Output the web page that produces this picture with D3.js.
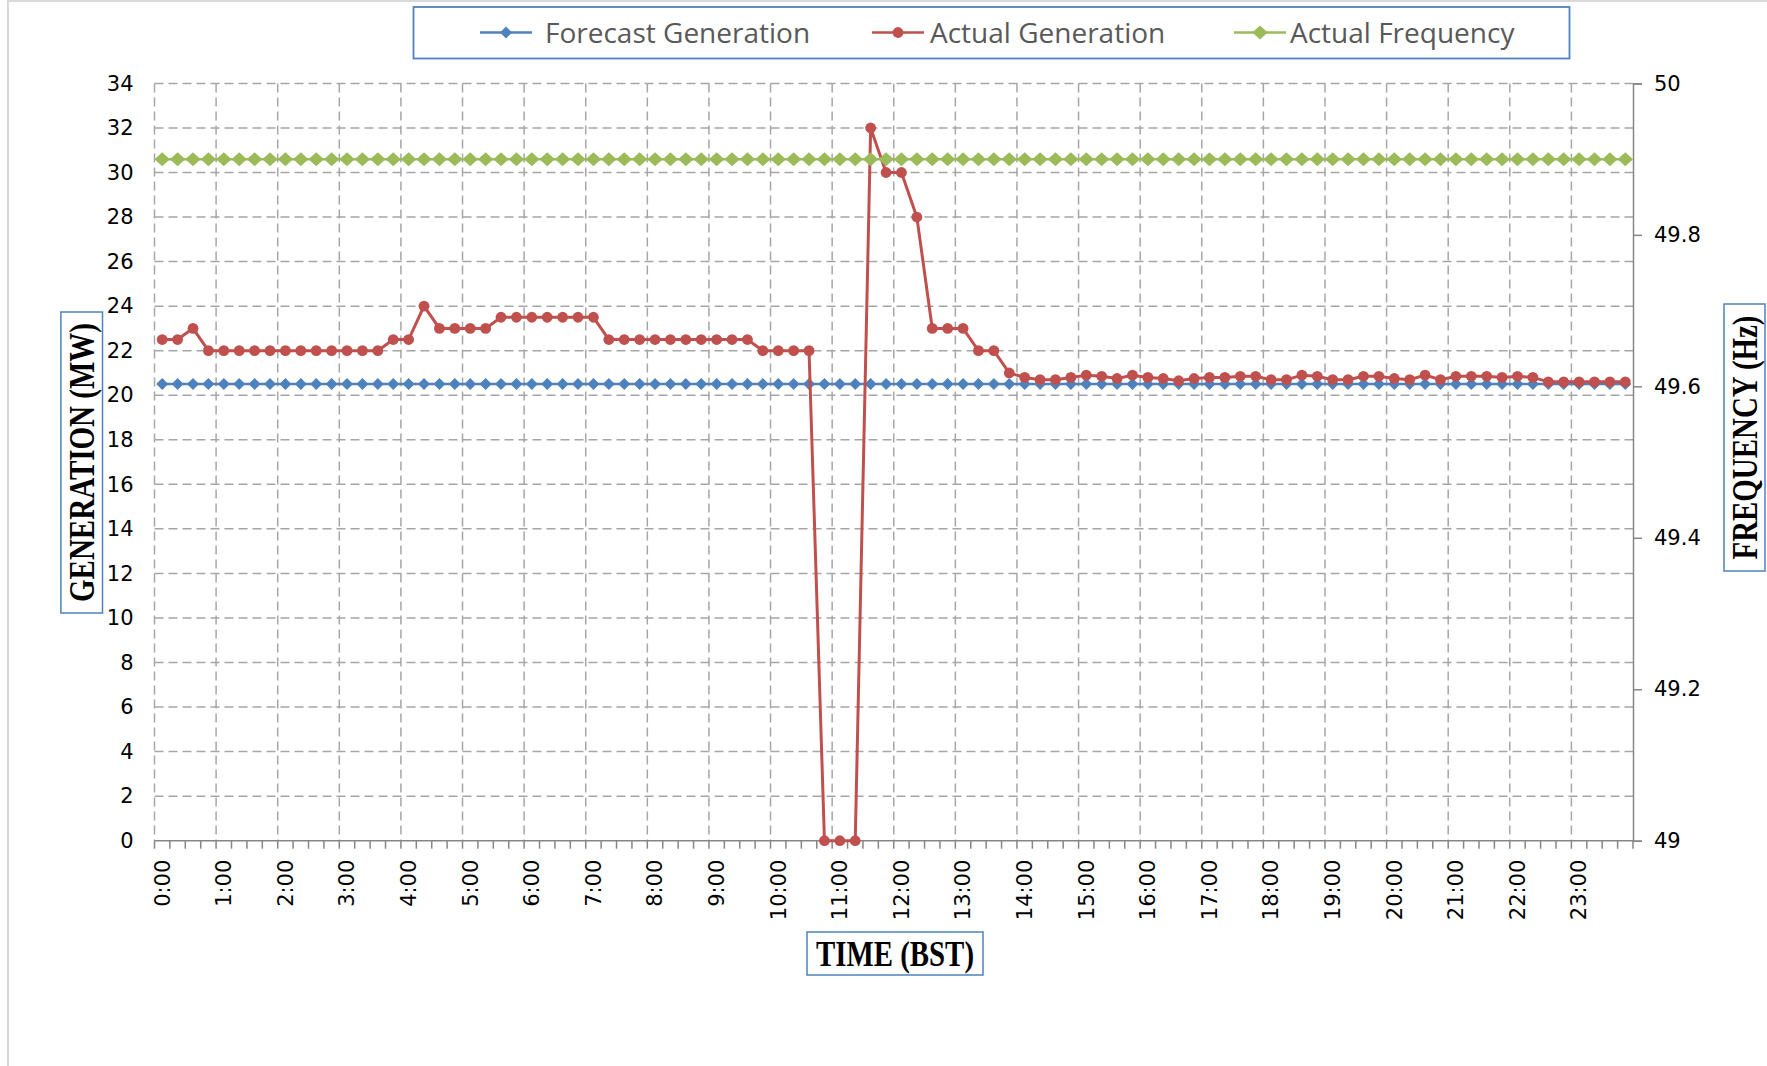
<!DOCTYPE html>
<html>
<head>
<meta charset="utf-8">
<script src="https://cdn.jsdelivr.net/npm/d3@7/dist/d3.min.js"></script>
<style>
  body { margin: 0; background: #fff; }
  svg { display: block; }
</style>
</head>
<body>
<svg id="chart" width="1767" height="1066"></svg>
<script>
// categories: every 15 minutes over the day
const times = [
  "0:00","0:15","0:30","0:45","1:00","1:15","1:30","1:45","2:00","2:15","2:30","2:45",
  "3:00","3:15","3:30","3:45","4:00","4:15","4:30","4:45","5:00","5:15","5:30","5:45",
  "6:00","6:15","6:30","6:45","7:00","7:15","7:30","7:45","8:00","8:15","8:30","8:45",
  "9:00","9:15","9:30","9:45","10:00","10:15","10:30","10:45","11:00","11:15","11:30","11:45",
  "12:00","12:15","12:30","12:45","13:00","13:15","13:30","13:45","14:00","14:15","14:30","14:45",
  "15:00","15:15","15:30","15:45","16:00","16:15","16:30","16:45","17:00","17:15","17:30","17:45",
  "18:00","18:15","18:30","18:45","19:00","19:15","19:30","19:45","20:00","20:15","20:30","20:45",
  "21:00","21:15","21:30","21:45","22:00","22:15","22:30","22:45","23:00","23:15","23:30","23:45"
];

// tick labels shown on the time axis
const hourLabels = [
  "0:00","1:00","2:00","3:00","4:00","5:00","6:00","7:00","8:00","9:00","10:00","11:00",
  "12:00","13:00","14:00","15:00","16:00","17:00","18:00","19:00","20:00","21:00","22:00","23:00"
];

const genTicks = [0, 2, 4, 6, 8, 10, 12, 14, 16, 18, 20, 22, 24, 26, 28, 30, 32, 34];
const freqTicks = [49, 49.2, 49.4, 49.6, 49.8, 50];

// MW
const forecastGen = [
  20.5,20.5,20.5,20.5,20.5,20.5,20.5,20.5,20.5,20.5,20.5,20.5,
  20.5,20.5,20.5,20.5,20.5,20.5,20.5,20.5,20.5,20.5,20.5,20.5,
  20.5,20.5,20.5,20.5,20.5,20.5,20.5,20.5,20.5,20.5,20.5,20.5,
  20.5,20.5,20.5,20.5,20.5,20.5,20.5,20.5,20.5,20.5,20.5,20.5,
  20.5,20.5,20.5,20.5,20.5,20.5,20.5,20.5,20.5,20.5,20.5,20.5,
  20.5,20.5,20.5,20.5,20.5,20.5,20.5,20.5,20.5,20.5,20.5,20.5,
  20.5,20.5,20.5,20.5,20.5,20.5,20.5,20.5,20.5,20.5,20.5,20.5,
  20.5,20.5,20.5,20.5,20.5,20.5,20.5,20.5,20.5,20.5,20.5,20.5
];

// MW
const actualGen = [
  22.5,22.5,23,22,22,22,22,22,22,22,22,22,
  22,22,22,22.5,22.5,24,23,23,23,23,23.5,23.5,
  23.5,23.5,23.5,23.5,23.5,22.5,22.5,22.5,22.5,22.5,22.5,22.5,
  22.5,22.5,22.5,22,22,22,22,0,0,0,32,30,
  30,28,23,23,23,22,22,21,20.8,20.7,20.7,20.8,
  20.9,20.85,20.75,20.9,20.8,20.75,20.65,20.75,20.8,20.8,20.85,20.85,
  20.7,20.7,20.9,20.85,20.7,20.7,20.85,20.85,20.75,20.7,20.9,20.7,
  20.85,20.85,20.85,20.8,20.85,20.8,20.6,20.6,20.6,20.6,20.6,20.6
];

// Hz
const actualFreq = [
  49.9,49.9,49.9,49.9,49.9,49.9,49.9,49.9,49.9,49.9,49.9,49.9,
  49.9,49.9,49.9,49.9,49.9,49.9,49.9,49.9,49.9,49.9,49.9,49.9,
  49.9,49.9,49.9,49.9,49.9,49.9,49.9,49.9,49.9,49.9,49.9,49.9,
  49.9,49.9,49.9,49.9,49.9,49.9,49.9,49.9,49.9,49.9,49.9,49.9,
  49.9,49.9,49.9,49.9,49.9,49.9,49.9,49.9,49.9,49.9,49.9,49.9,
  49.9,49.9,49.9,49.9,49.9,49.9,49.9,49.9,49.9,49.9,49.9,49.9,
  49.9,49.9,49.9,49.9,49.9,49.9,49.9,49.9,49.9,49.9,49.9,49.9,
  49.9,49.9,49.9,49.9,49.9,49.9,49.9,49.9,49.9,49.9,49.9,49.9
];

const blue = "#4f81bd", red = "#c0504d", green = "#9bbb59";
const gridColor = "#a6a6a6", axisColor = "#868686";
const tickFont = "'DejaVu Sans', Verdana, sans-serif";

const plot = { left: 154.5, right: 1633, top: 83.4, bottom: 840.7 };

const svg = d3.select("#chart");

// outer chart border
svg.append("rect")
  .attr("x", 8).attr("y", 1)
  .attr("width", 1800).attr("height", 1100)
  .attr("fill", "#fff").attr("stroke", "#d9d9d9").attr("stroke-width", 2);

const x = d3.scaleBand()
  .domain(times)
  .range([plot.left, plot.right]);
const bw = x.bandwidth();
const cx = d => x(d) + bw / 2;

const yGen = d3.scaleLinear().domain([0, 34]).range([plot.bottom, plot.top]);
const yFreq = d3.scaleLinear().domain([49, 50]).range([plot.bottom, plot.top]);

// horizontal gridlines
svg.append("g").selectAll("line")
  .data(genTicks.filter(d => d > 0))
  .join("line")
  .attr("x1", plot.left).attr("x2", plot.right)
  .attr("y1", d => yGen(d)).attr("y2", d => yGen(d))
  .attr("stroke", gridColor).attr("stroke-width", 1.5)
  .attr("stroke-dasharray", "9,5");

// vertical gridlines, one per hour at band edges
svg.append("g").selectAll("line")
  .data(hourLabels)
  .join("line")
  .attr("x1", d => x(d)).attr("x2", d => x(d))
  .attr("y1", plot.top).attr("y2", plot.bottom)
  .attr("stroke", gridColor).attr("stroke-width", 1.5)
  .attr("stroke-dasharray", "9,5");

// left axis (labels only)
const leftAxis = svg.append("g")
  .attr("transform", `translate(${plot.left},0)`)
  .call(d3.axisLeft(yGen).tickValues(genTicks).tickSize(0).tickPadding(21));
leftAxis.select(".domain").remove();
leftAxis.selectAll("text")
  .attr("font-family", tickFont).attr("font-size", 21).attr("fill", "#000");

// right axis
const rightAxis = svg.append("g")
  .attr("transform", `translate(${plot.right},0)`)
  .call(d3.axisRight(yFreq).tickValues(freqTicks).tickSize(9).tickPadding(12)
    .tickFormat(d3.format("~g")));
rightAxis.select(".domain").attr("stroke", axisColor).attr("stroke-width", 1.5);
rightAxis.selectAll(".tick line").attr("stroke", axisColor).attr("stroke-width", 1.5);
rightAxis.selectAll("text")
  .attr("font-family", tickFont).attr("font-size", 21).attr("fill", "#000");

// bottom axis: line + a tick at every band edge
svg.append("line")
  .attr("x1", plot.left).attr("x2", plot.right)
  .attr("y1", plot.bottom).attr("y2", plot.bottom)
  .attr("stroke", axisColor).attr("stroke-width", 1.5);
svg.append("g").selectAll("line")
  .data(times.map(d => x(d)).concat([plot.right]))
  .join("line")
  .attr("x1", d => d).attr("x2", d => d)
  .attr("y1", plot.bottom).attr("y2", plot.bottom + 8)
  .attr("stroke", axisColor).attr("stroke-width", 1.5);

const bottomAxis = svg.append("g")
  .attr("transform", `translate(0,${plot.bottom})`)
  .call(d3.axisBottom(x).tickValues(hourLabels).tickSize(0).tickPadding(0));
bottomAxis.select(".domain").remove();
bottomAxis.selectAll("text")
  .attr("font-family", tickFont).attr("font-size", 21).attr("fill", "#000")
  .attr("text-anchor", "end")
  .attr("transform", "rotate(-90)")
  .attr("x", -19).attr("y", 0).attr("dy", "0.35em");

// series
const diamond = (w, h) => `M0,${-h}L${w},0L0,${h}L${-w},0Z`;

const genLine = d3.line().x((d, i) => cx(times[i])).y(d => yGen(d));
const freqLine = d3.line().x((d, i) => cx(times[i])).y(d => yFreq(d));

// forecast generation
svg.append("path").datum(forecastGen)
  .attr("d", genLine).attr("fill", "none")
  .attr("stroke", blue).attr("stroke-width", 2.5);
svg.append("g").selectAll("path")
  .data(forecastGen)
  .join("path")
  .attr("transform", (d, i) => `translate(${cx(times[i])},${yGen(d)})`)
  .attr("d", diamond(6, 6)).attr("fill", blue);

// actual generation
svg.append("path").datum(actualGen)
  .attr("d", genLine).attr("fill", "none")
  .attr("stroke", red).attr("stroke-width", 3);
svg.append("g").selectAll("circle")
  .data(actualGen)
  .join("circle")
  .attr("cx", (d, i) => cx(times[i])).attr("cy", d => yGen(d))
  .attr("r", 5.4).attr("fill", red);

// actual frequency (secondary axis)
svg.append("path").datum(actualFreq)
  .attr("d", freqLine).attr("fill", "none")
  .attr("stroke", green).attr("stroke-width", 2.5);
svg.append("g").selectAll("path")
  .data(actualFreq)
  .join("path")
  .attr("transform", (d, i) => `translate(${cx(times[i])},${yFreq(d)})`)
  .attr("d", diamond(7.7, 7)).attr("fill", green);

// legend
svg.append("rect")
  .attr("x", 413.5).attr("y", 7).attr("width", 1156).attr("height", 51.5)
  .attr("fill", "#fff").attr("stroke", blue).attr("stroke-width", 1.8);

const legendItems = [
  { name: "Forecast Generation", color: blue, shape: "diamond", x0: 480, tx: 545 },
  { name: "Actual Generation", color: red, shape: "circle", x0: 872, tx: 930 },
  { name: "Actual Frequency", color: green, shape: "diamond", x0: 1234, tx: 1290 }
];
const ly = 32.5;
legendItems.forEach(it => {
  const g = svg.append("g");
  g.append("line")
    .attr("x1", it.x0).attr("x2", it.x0 + 52)
    .attr("y1", ly).attr("y2", ly)
    .attr("stroke", it.color).attr("stroke-width", 2.5);
  if (it.shape === "circle") {
    g.append("circle").attr("cx", it.x0 + 26).attr("cy", ly).attr("r", 5.4).attr("fill", it.color);
  } else {
    g.append("path").attr("transform", `translate(${it.x0 + 26},${ly})`)
      .attr("d", it.color === green ? diamond(7.7, 7) : diamond(6, 6)).attr("fill", it.color);
  }
  g.append("text")
    .attr("x", it.tx).attr("y", ly + 10.5)
    .attr("font-family", "'Open Sans', sans-serif").attr("font-size", 28)
    .attr("fill", "#595959")
    .text(it.name);
});

// axis titles in boxes
function titleBox(cxp, cyp, w, h, rot, label, len) {
  const g = svg.append("g").attr("transform", `translate(${cxp},${cyp}) rotate(${rot})`);
  const bwid = rot ? h : w, bh = rot ? w : h;
  g.append("rect")
    .attr("x", -bwid / 2).attr("y", -bh / 2).attr("width", bwid).attr("height", bh)
    .attr("fill", "#fff").attr("stroke", blue).attr("stroke-width", 1.5);
  g.append("text")
    .attr("x", 0).attr("y", 12)
    .attr("text-anchor", "middle")
    .attr("font-family", "'Liberation Serif', 'Times New Roman', serif")
    .attr("font-weight", "bold").attr("font-size", 36).attr("fill", "#000")
    .attr("textLength", len).attr("lengthAdjust", "spacingAndGlyphs")
    .text(label);
}
titleBox(81.7, 462.5, 41.6, 301, -90, "GENERATION (MW)", 279);
titleBox(1744.5, 437.5, 41, 267, -90, "FREQUENCY (Hz)", 244);
titleBox(895, 953.5, 176, 43, 0, "TIME (BST)", 158);
</script>
</body>
</html>
